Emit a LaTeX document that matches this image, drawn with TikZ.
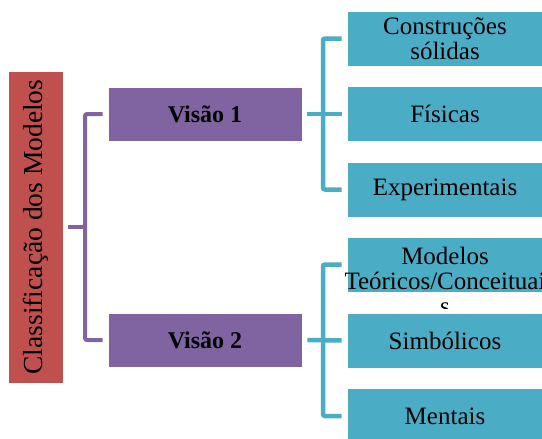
\documentclass[tikz,border=0pt]{standalone}
\usepackage{fontspec}
\setmainfont{Liberation Serif}
\definecolor{redbox}{HTML}{C0504D}
\definecolor{purplebox}{HTML}{8064A2}
\definecolor{tealbox}{HTML}{4BACC6}
\tikzset{
  rootbox/.style={fill=redbox, draw=white, line width=0.6pt, rotate=90, minimum width=312pt, minimum height=55pt, inner sep=0pt, font=\fontsize{27.5}{28}\selectfont},
  viewbox/.style={fill=purplebox, draw=white, line width=0.6pt, minimum width=194pt, minimum height=54pt, inner sep=0pt, font=\fontsize{24}{25}\selectfont\bfseries},
  kindbox/.style={fill=tealbox, draw=white, line width=0.6pt, minimum width=196pt, minimum height=55pt, inner sep=0pt, align=center, font=\fontsize{25}{25}\selectfont},
  plink/.style={draw=purplebox, line width=4pt, rounded corners=2pt},
  tlink/.style={draw=tealbox, line width=4.5pt, rounded corners=2pt},
}
\begin{document}
\begin{tikzpicture}[x=1pt,y=-1pt]
  \useasboundingbox (0,0) rectangle (542,439);
  \node[rootbox] (cls) at (35.5,227) {Classificação dos Modelos};
  \node[viewbox] (v1) at (205,114) {Visão 1};
  \node[viewbox] (v2) at (205,340) {Visão 2};
  \node[kindbox] (cons) at (445,38.5) {Construções\\sólidas};
  \node[kindbox] (fis) at (445,114) {Físicas};
  \node[kindbox] (exp) at (445,189.5) {Experimentais};
  \node[kindbox] (mod) at (445,264.5) {};
  \node[kindbox] (sim) at (445,340.5) {Simbólicos};
  \node[kindbox] (ment) at (445,416) {Mentais};
  % text of the fourth box runs past it
  \begin{scope}
    \clip (330,230) rectangle (560,308);
    \node[anchor=north, inner sep=0pt, align=center, font=\fontsize{25}{25}\selectfont] (modtext) at (445,247) {Modelos\\Teóricos/Conceituai\\s};
  \end{scope}
  \coordinate (pj) at (85,227);
  \coordinate (tj1) at (323,114);
  \coordinate (tj2) at (323,340);
  \draw[plink, shorten <=5pt] (cls.south) -- (pj);
  \begin{scope}[shorten <=5pt, shorten >=5pt]
    \draw[plink] (v1.west) -| (pj |- v2.west) -- (v2.west);
    \draw[tlink] (v1.east) -- (fis.west);
    \draw[tlink] (cons.west) -| (tj1 |- exp.west) -- (exp.west);
    \draw[tlink] (v2.east) -- (sim.west);
    \draw[tlink] (mod.west) -| (tj2 |- ment.west) -- (ment.west);
  \end{scope}
\end{tikzpicture}
\end{document}
